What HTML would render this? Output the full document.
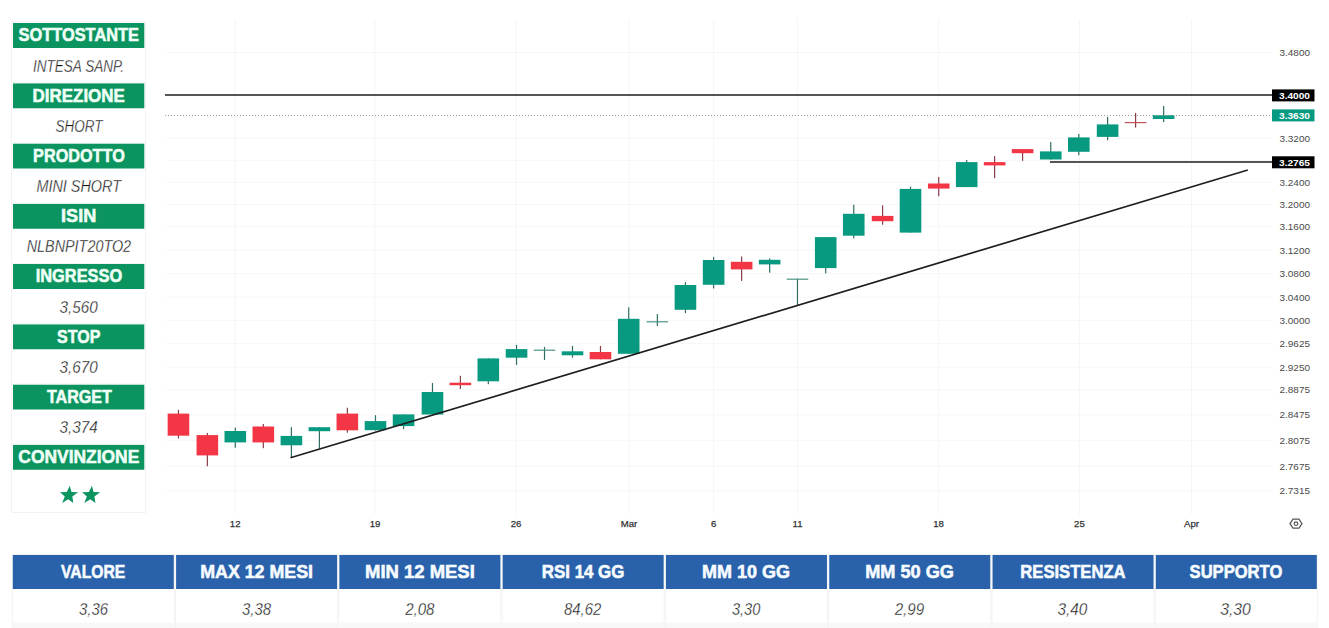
<!DOCTYPE html>
<html><head><meta charset="utf-8"><title>Chart</title>
<style>
html,body{margin:0;padding:0;background:#fff;width:1329px;height:628px;overflow:hidden}
svg{display:block;font-family:"Liberation Sans", sans-serif}
</style></head><body>
<svg width="1329" height="628" viewBox="0 0 1329 628">
<rect x="234.7" y="19" width="1" height="495" fill="#f6f6f9"/>
<rect x="374.5" y="19" width="1" height="495" fill="#f6f6f9"/>
<rect x="515.5" y="19" width="1" height="495" fill="#f6f6f9"/>
<rect x="628.5" y="19" width="1" height="495" fill="#f6f6f9"/>
<rect x="713.1" y="19" width="1" height="495" fill="#f6f6f9"/>
<rect x="797" y="19" width="1" height="495" fill="#f6f6f9"/>
<rect x="938.1" y="19" width="1" height="495" fill="#f6f6f9"/>
<rect x="1078.9" y="19" width="1" height="495" fill="#f6f6f9"/>
<rect x="1191" y="19" width="1" height="495" fill="#f6f6f9"/>
<rect x="166" y="52" width="1106" height="1" fill="#f7f7f9"/>
<rect x="166" y="138.1" width="1106" height="1" fill="#f7f7f9"/>
<rect x="166" y="181.9" width="1106" height="1" fill="#f7f7f9"/>
<rect x="166" y="204" width="1106" height="1" fill="#f7f7f9"/>
<rect x="166" y="226.2" width="1106" height="1" fill="#f7f7f9"/>
<rect x="166" y="250" width="1106" height="1" fill="#f7f7f9"/>
<rect x="166" y="272.9" width="1106" height="1" fill="#f7f7f9"/>
<rect x="166" y="296.7" width="1106" height="1" fill="#f7f7f9"/>
<rect x="166" y="320.1" width="1106" height="1" fill="#f7f7f9"/>
<rect x="166" y="343" width="1106" height="1" fill="#f7f7f9"/>
<rect x="166" y="366.7" width="1106" height="1" fill="#f7f7f9"/>
<rect x="166" y="388.9" width="1106" height="1" fill="#f7f7f9"/>
<rect x="166" y="414.4" width="1106" height="1" fill="#f7f7f9"/>
<rect x="166" y="440.2" width="1106" height="1" fill="#f7f7f9"/>
<rect x="166" y="466" width="1106" height="1" fill="#f7f7f9"/>
<rect x="166" y="490.4" width="1106" height="1" fill="#f7f7f9"/>
<rect x="166" y="159.8" width="1106" height="1" fill="#f7f7f9"/>
<rect x="177.85" y="409.8" width="1.2" height="28.7" fill="#8a3d47"/>
<rect x="167.65" y="413.6" width="21.6" height="22.1" fill="#f23645"/>
<rect x="206.75" y="432.9" width="1.2" height="33.4" fill="#8a3d47"/>
<rect x="196.55" y="435.1" width="21.6" height="20.3" fill="#f23645"/>
<rect x="234.7" y="427.6" width="1.2" height="20.1" fill="#2f6f63"/>
<rect x="224.5" y="431" width="21.6" height="11.4" fill="#089981"/>
<rect x="262.72" y="424" width="1.2" height="24.2" fill="#8a3d47"/>
<rect x="252.52" y="426.5" width="21.6" height="15.9" fill="#f23645"/>
<rect x="290.8" y="427.2" width="1.2" height="30.4" fill="#2f6f63"/>
<rect x="280.6" y="435.9" width="21.6" height="9.4" fill="#089981"/>
<rect x="318.8" y="427.2" width="1.2" height="21.5" fill="#2f6f63"/>
<rect x="308.6" y="427.2" width="21.6" height="4" fill="#089981"/>
<rect x="346.75" y="407.7" width="1.2" height="25" fill="#8a3d47"/>
<rect x="336.55" y="413.6" width="21.6" height="16.7" fill="#f23645"/>
<rect x="374.9" y="415.2" width="1.2" height="15.3" fill="#2f6f63"/>
<rect x="364.7" y="421.1" width="21.6" height="9.1" fill="#089981"/>
<rect x="402.97" y="414.4" width="1.2" height="14.7" fill="#2f6f63"/>
<rect x="392.77" y="414.4" width="21.6" height="11.7" fill="#089981"/>
<rect x="431.88" y="383" width="1.2" height="31.5" fill="#2f6f63"/>
<rect x="421.68" y="392" width="21.6" height="22.5" fill="#089981"/>
<rect x="459.75" y="375.8" width="1.2" height="13.2" fill="#8a3d47"/>
<rect x="449.55" y="382.7" width="21.6" height="2.5" fill="#f23645"/>
<rect x="487.72" y="358.4" width="1.2" height="25.8" fill="#2f6f63"/>
<rect x="477.52" y="358.4" width="21.6" height="22.9" fill="#089981"/>
<rect x="515.95" y="344.8" width="1.2" height="20.1" fill="#2f6f63"/>
<rect x="505.75" y="349.1" width="21.6" height="8.6" fill="#089981"/>
<rect x="543.92" y="346.9" width="1.2" height="13" fill="#2f6f63"/>
<rect x="533.73" y="349.6" width="21.6" height="1.2" fill="#4f9486"/>
<rect x="571.9" y="346" width="1.2" height="11.7" fill="#2f6f63"/>
<rect x="561.7" y="351.3" width="21.6" height="4" fill="#089981"/>
<rect x="599.88" y="346" width="1.2" height="13.3" fill="#8a3d47"/>
<rect x="589.68" y="352" width="21.6" height="7.3" fill="#f23645"/>
<rect x="628.1" y="307.3" width="1.2" height="46.5" fill="#2f6f63"/>
<rect x="617.9" y="318.8" width="21.6" height="35" fill="#089981"/>
<rect x="656.75" y="314" width="1.2" height="12" fill="#2f6f63"/>
<rect x="646.55" y="321.2" width="21.6" height="1.2" fill="#4f9486"/>
<rect x="684.85" y="282.1" width="1.2" height="31" fill="#2f6f63"/>
<rect x="674.65" y="285" width="21.6" height="24.8" fill="#089981"/>
<rect x="713.02" y="256.9" width="1.2" height="31.6" fill="#2f6f63"/>
<rect x="702.83" y="260" width="21.6" height="24.8" fill="#089981"/>
<rect x="741.05" y="256.5" width="1.2" height="24.4" fill="#8a3d47"/>
<rect x="730.85" y="261.8" width="21.6" height="7.6" fill="#f23645"/>
<rect x="769.05" y="258.4" width="1.2" height="14.3" fill="#2f6f63"/>
<rect x="758.85" y="259.8" width="21.6" height="4.6" fill="#089981"/>
<rect x="796.88" y="278.6" width="1.2" height="27.1" fill="#2f6f63"/>
<rect x="786.68" y="278.6" width="21.6" height="1.2" fill="#4f9486"/>
<rect x="825.12" y="237.1" width="1.2" height="36.3" fill="#2f6f63"/>
<rect x="814.92" y="237.1" width="21.6" height="31" fill="#089981"/>
<rect x="853.15" y="204.7" width="1.2" height="33.6" fill="#2f6f63"/>
<rect x="842.95" y="213.8" width="21.6" height="21.9" fill="#089981"/>
<rect x="882" y="205.4" width="1.2" height="19.3" fill="#8a3d47"/>
<rect x="871.8" y="215.9" width="21.6" height="5.3" fill="#f23645"/>
<rect x="909.9" y="186.6" width="1.2" height="46" fill="#2f6f63"/>
<rect x="899.7" y="188.9" width="21.6" height="43.7" fill="#089981"/>
<rect x="938.12" y="176.9" width="1.2" height="19.3" fill="#8a3d47"/>
<rect x="927.93" y="183.5" width="21.6" height="5.1" fill="#f23645"/>
<rect x="966.1" y="160" width="1.2" height="27.1" fill="#2f6f63"/>
<rect x="955.9" y="162.1" width="21.6" height="25" fill="#089981"/>
<rect x="994.02" y="156.1" width="1.2" height="22.1" fill="#8a3d47"/>
<rect x="983.83" y="162.1" width="21.6" height="3.3" fill="#f23645"/>
<rect x="1022" y="149.1" width="1.2" height="11.7" fill="#8a3d47"/>
<rect x="1011.8" y="149.1" width="21.6" height="4.1" fill="#f23645"/>
<rect x="1050.15" y="142" width="1.2" height="17.5" fill="#2f6f63"/>
<rect x="1039.95" y="151.4" width="21.6" height="8.1" fill="#089981"/>
<rect x="1078.2" y="133.9" width="1.2" height="21.3" fill="#2f6f63"/>
<rect x="1068" y="137.4" width="21.6" height="14.4" fill="#089981"/>
<rect x="1107" y="117" width="1.2" height="23.3" fill="#2f6f63"/>
<rect x="1096.8" y="124.4" width="21.6" height="12.5" fill="#089981"/>
<rect x="1135" y="112.9" width="1.2" height="14.7" fill="#8a3d47"/>
<rect x="1124.8" y="122" width="21.6" height="1.2" fill="#c4505c"/>
<rect x="1163.03" y="105.9" width="1.2" height="16.2" fill="#2f6f63"/>
<rect x="1152.83" y="115.2" width="21.6" height="3.8" fill="#089981"/>
<line x1="165" y1="95" x2="1272" y2="95" stroke="#1c1c1c" stroke-width="1.7"/>
<line x1="1050" y1="162" x2="1272" y2="162" stroke="#1c1c1c" stroke-width="1.7"/>
<line x1="165" y1="115.5" x2="1272" y2="115.5" stroke="#9c9c9c" stroke-width="1.2" stroke-dasharray="1 2"/>
<line x1="290.5" y1="457.8" x2="1247.8" y2="170" stroke="#1e1e1e" stroke-width="1.7"/>
<text x="1310" y="56" text-anchor="end" font-size="9.8" fill="#4a4a4a" textLength="30.5" lengthAdjust="spacingAndGlyphs">3.4800</text>
<text x="1310" y="142.1" text-anchor="end" font-size="9.8" fill="#4a4a4a" textLength="30.5" lengthAdjust="spacingAndGlyphs">3.3200</text>
<text x="1310" y="185.9" text-anchor="end" font-size="9.8" fill="#4a4a4a" textLength="30.5" lengthAdjust="spacingAndGlyphs">3.2400</text>
<text x="1310" y="208" text-anchor="end" font-size="9.8" fill="#4a4a4a" textLength="30.5" lengthAdjust="spacingAndGlyphs">3.2000</text>
<text x="1310" y="230.2" text-anchor="end" font-size="9.8" fill="#4a4a4a" textLength="30.5" lengthAdjust="spacingAndGlyphs">3.1600</text>
<text x="1310" y="254" text-anchor="end" font-size="9.8" fill="#4a4a4a" textLength="30.5" lengthAdjust="spacingAndGlyphs">3.1200</text>
<text x="1310" y="276.9" text-anchor="end" font-size="9.8" fill="#4a4a4a" textLength="30.5" lengthAdjust="spacingAndGlyphs">3.0800</text>
<text x="1310" y="300.7" text-anchor="end" font-size="9.8" fill="#4a4a4a" textLength="30.5" lengthAdjust="spacingAndGlyphs">3.0400</text>
<text x="1310" y="324.1" text-anchor="end" font-size="9.8" fill="#4a4a4a" textLength="30.5" lengthAdjust="spacingAndGlyphs">3.0000</text>
<text x="1310" y="347" text-anchor="end" font-size="9.8" fill="#4a4a4a" textLength="30.5" lengthAdjust="spacingAndGlyphs">2.9625</text>
<text x="1310" y="370.7" text-anchor="end" font-size="9.8" fill="#4a4a4a" textLength="30.5" lengthAdjust="spacingAndGlyphs">2.9250</text>
<text x="1310" y="392.9" text-anchor="end" font-size="9.8" fill="#4a4a4a" textLength="30.5" lengthAdjust="spacingAndGlyphs">2.8875</text>
<text x="1310" y="418.4" text-anchor="end" font-size="9.8" fill="#4a4a4a" textLength="30.5" lengthAdjust="spacingAndGlyphs">2.8475</text>
<text x="1310" y="444.2" text-anchor="end" font-size="9.8" fill="#4a4a4a" textLength="30.5" lengthAdjust="spacingAndGlyphs">2.8075</text>
<text x="1310" y="470" text-anchor="end" font-size="9.8" fill="#4a4a4a" textLength="30.5" lengthAdjust="spacingAndGlyphs">2.7675</text>
<text x="1310" y="494.4" text-anchor="end" font-size="9.8" fill="#4a4a4a" textLength="30.5" lengthAdjust="spacingAndGlyphs">2.7315</text>
<rect x="1272" y="89.4" width="42.5" height="12" fill="#000"/>
<text x="1310" y="98.8" text-anchor="end" font-size="9.6" font-weight="bold" fill="#fff" textLength="31" lengthAdjust="spacingAndGlyphs">3.4000</text>
<rect x="1272" y="109.4" width="42.5" height="12" fill="#089981"/>
<text x="1310" y="118.8" text-anchor="end" font-size="9.6" font-weight="bold" fill="#fff" textLength="31" lengthAdjust="spacingAndGlyphs">3.3630</text>
<rect x="1272" y="156.3" width="42.5" height="12" fill="#000"/>
<text x="1310" y="165.7" text-anchor="end" font-size="9.6" font-weight="bold" fill="#fff" textLength="31" lengthAdjust="spacingAndGlyphs">3.2765</text>
<text x="235.2" y="526.8" text-anchor="middle" font-size="9.6" fill="#333" stroke="#333" stroke-width="0.25">12</text>
<text x="375" y="526.8" text-anchor="middle" font-size="9.6" fill="#333" stroke="#333" stroke-width="0.25">19</text>
<text x="516" y="526.8" text-anchor="middle" font-size="9.6" fill="#333" stroke="#333" stroke-width="0.25">26</text>
<text x="629" y="526.8" text-anchor="middle" font-size="9.6" fill="#333" stroke="#333" stroke-width="0.25">Mar</text>
<text x="713.6" y="526.8" text-anchor="middle" font-size="9.6" fill="#333" stroke="#333" stroke-width="0.25">6</text>
<text x="797.5" y="526.8" text-anchor="middle" font-size="9.6" fill="#333" stroke="#333" stroke-width="0.25">11</text>
<text x="938.6" y="526.8" text-anchor="middle" font-size="9.6" fill="#333" stroke="#333" stroke-width="0.25">18</text>
<text x="1079.4" y="526.8" text-anchor="middle" font-size="9.6" fill="#333" stroke="#333" stroke-width="0.25">25</text>
<text x="1191.5" y="526.8" text-anchor="middle" font-size="9.6" fill="#333" stroke="#333" stroke-width="0.25">Apr</text>
<g transform="translate(1296,523.7)" fill="none" stroke="#555" stroke-width="1.2"><path d="M-6,0 L-3,-4.5 L3,-4.5 L6,0 L3,4.5 L-3,4.5 Z"/><circle cx="0" cy="0" r="1.8"/></g>
<rect x="11.5" y="21.5" width="134" height="491" fill="#fff" stroke="#f3f3f3" stroke-width="1"/>
<rect x="13" y="23" width="131.3" height="25" fill="#0b945f"/>
<text x="18.5" y="41.4" font-size="18.3" font-weight="bold" fill="#effff7" stroke="#effff7" stroke-width="0.55" textLength="120.5" lengthAdjust="spacingAndGlyphs">SOTTOSTANTE</text>
<text x="33" y="71.7" font-size="15.6" font-style="italic" fill="#151515" stroke="#fff" stroke-width="0.3" textLength="91" lengthAdjust="spacingAndGlyphs">INTESA SANP.</text>
<rect x="13" y="83.25" width="131.3" height="25" fill="#0b945f"/>
<rect x="12" y="82.25" width="133.3" height="1" fill="#eef7f2"/>
<text x="32.6" y="101.65" font-size="18.3" font-weight="bold" fill="#effff7" stroke="#effff7" stroke-width="0.55" textLength="92.2" lengthAdjust="spacingAndGlyphs">DIREZIONE</text>
<text x="55.5" y="131.95" font-size="15.6" font-style="italic" fill="#151515" stroke="#fff" stroke-width="0.3" textLength="46.9" lengthAdjust="spacingAndGlyphs">SHORT</text>
<rect x="13" y="143.5" width="131.3" height="25" fill="#0b945f"/>
<rect x="12" y="142.5" width="133.3" height="1" fill="#eef7f2"/>
<text x="33.1" y="161.9" font-size="18.3" font-weight="bold" fill="#effff7" stroke="#effff7" stroke-width="0.55" textLength="91.7" lengthAdjust="spacingAndGlyphs">PRODOTTO</text>
<text x="36.4" y="192.2" font-size="15.6" font-style="italic" fill="#151515" stroke="#fff" stroke-width="0.3" textLength="84.6" lengthAdjust="spacingAndGlyphs">MINI SHORT</text>
<rect x="13" y="203.75" width="131.3" height="25" fill="#0b945f"/>
<rect x="12" y="202.75" width="133.3" height="1" fill="#eef7f2"/>
<text x="61.1" y="222.15" font-size="18.3" font-weight="bold" fill="#effff7" stroke="#effff7" stroke-width="0.55" textLength="35.2" lengthAdjust="spacingAndGlyphs">ISIN</text>
<text x="26.7" y="252.45" font-size="15.6" font-style="italic" fill="#151515" stroke="#fff" stroke-width="0.3" textLength="104.4" lengthAdjust="spacingAndGlyphs">NLBNPIT20TO2</text>
<rect x="13" y="264" width="131.3" height="25" fill="#0b945f"/>
<rect x="12" y="263" width="133.3" height="1" fill="#eef7f2"/>
<text x="35.7" y="282.4" font-size="18.3" font-weight="bold" fill="#effff7" stroke="#effff7" stroke-width="0.55" textLength="86.5" lengthAdjust="spacingAndGlyphs">INGRESSO</text>
<text x="59.6" y="312.7" font-size="15.6" font-style="italic" fill="#151515" stroke="#fff" stroke-width="0.3" textLength="38.2" lengthAdjust="spacingAndGlyphs">3,560</text>
<rect x="13" y="324.25" width="131.3" height="25" fill="#0b945f"/>
<rect x="12" y="323.25" width="133.3" height="1" fill="#eef7f2"/>
<text x="57.1" y="342.65" font-size="18.3" font-weight="bold" fill="#effff7" stroke="#effff7" stroke-width="0.55" textLength="43.3" lengthAdjust="spacingAndGlyphs">STOP</text>
<text x="59.6" y="372.95" font-size="15.6" font-style="italic" fill="#151515" stroke="#fff" stroke-width="0.3" textLength="38.2" lengthAdjust="spacingAndGlyphs">3,670</text>
<rect x="13" y="384.5" width="131.3" height="25" fill="#0b945f"/>
<rect x="12" y="383.5" width="133.3" height="1" fill="#eef7f2"/>
<text x="46.9" y="402.9" font-size="18.3" font-weight="bold" fill="#effff7" stroke="#effff7" stroke-width="0.55" textLength="64.9" lengthAdjust="spacingAndGlyphs">TARGET</text>
<text x="59.6" y="433.2" font-size="15.6" font-style="italic" fill="#151515" stroke="#fff" stroke-width="0.3" textLength="38.2" lengthAdjust="spacingAndGlyphs">3,374</text>
<rect x="13" y="444.75" width="131.3" height="25" fill="#0b945f"/>
<rect x="12" y="443.75" width="133.3" height="1" fill="#eef7f2"/>
<text x="18.3" y="463.15" font-size="18.3" font-weight="bold" fill="#effff7" stroke="#effff7" stroke-width="0.55" textLength="121" lengthAdjust="spacingAndGlyphs">CONVINZIONE</text>
<polygon transform="translate(68.7,495.2) skewX(-7)" points="0.00,-9.50 2.35,-3.23 9.04,-2.94 3.79,1.23 5.58,7.69 0.00,3.99 -5.58,7.69 -3.79,1.23 -9.04,-2.94 -2.35,-3.23" fill="#0b945f"/>
<polygon transform="translate(90.8,495.2) skewX(-7)" points="0.00,-9.50 2.35,-3.23 9.04,-2.94 3.79,1.23 5.58,7.69 0.00,3.99 -5.58,7.69 -3.79,1.23 -9.04,-2.94 -2.35,-3.23" fill="#0b945f"/>
<rect x="12.3" y="554.5" width="162" height="80" fill="#fff" stroke="#f3f3f3" stroke-width="1"/>
<rect x="12.8" y="622.5" width="161" height="6" fill="#f8f8f8"/>
<rect x="12.8" y="555" width="161" height="34" fill="#2962aa"/>
<text x="61" y="577.9" font-size="19.2" font-weight="bold" fill="#f6fbff" stroke="#f6fbff" stroke-width="0.6" textLength="64.3" lengthAdjust="spacingAndGlyphs">VALORE</text>
<text x="79" y="614.6" font-size="15.6" font-style="italic" fill="#151515" stroke="#fff" stroke-width="0.3" textLength="29" lengthAdjust="spacingAndGlyphs">3,36</text>
<rect x="175.59" y="554.5" width="162" height="80" fill="#fff" stroke="#f3f3f3" stroke-width="1"/>
<rect x="176.09" y="622.5" width="161" height="6" fill="#f8f8f8"/>
<rect x="176.09" y="555" width="161" height="34" fill="#2962aa"/>
<text x="200.2" y="577.9" font-size="19.2" font-weight="bold" fill="#f6fbff" stroke="#f6fbff" stroke-width="0.6" textLength="112.8" lengthAdjust="spacingAndGlyphs">MAX 12 MESI</text>
<text x="242" y="614.6" font-size="15.6" font-style="italic" fill="#151515" stroke="#fff" stroke-width="0.3" textLength="29" lengthAdjust="spacingAndGlyphs">3,38</text>
<rect x="338.88" y="554.5" width="162" height="80" fill="#fff" stroke="#f3f3f3" stroke-width="1"/>
<rect x="339.38" y="622.5" width="161" height="6" fill="#f8f8f8"/>
<rect x="339.38" y="555" width="161" height="34" fill="#2962aa"/>
<text x="365" y="577.9" font-size="19.2" font-weight="bold" fill="#f6fbff" stroke="#f6fbff" stroke-width="0.6" textLength="109.8" lengthAdjust="spacingAndGlyphs">MIN 12 MESI</text>
<text x="405.2" y="614.6" font-size="15.6" font-style="italic" fill="#151515" stroke="#fff" stroke-width="0.3" textLength="29.3" lengthAdjust="spacingAndGlyphs">2,08</text>
<rect x="502.17" y="554.5" width="162" height="80" fill="#fff" stroke="#f3f3f3" stroke-width="1"/>
<rect x="502.67" y="622.5" width="161" height="6" fill="#f8f8f8"/>
<rect x="502.67" y="555" width="161" height="34" fill="#2962aa"/>
<text x="541.8" y="577.9" font-size="19.2" font-weight="bold" fill="#f6fbff" stroke="#f6fbff" stroke-width="0.6" textLength="82.6" lengthAdjust="spacingAndGlyphs">RSI 14 GG</text>
<text x="564" y="614.6" font-size="15.6" font-style="italic" fill="#151515" stroke="#fff" stroke-width="0.3" textLength="37.3" lengthAdjust="spacingAndGlyphs">84,62</text>
<rect x="665.46" y="554.5" width="162" height="80" fill="#fff" stroke="#f3f3f3" stroke-width="1"/>
<rect x="665.96" y="622.5" width="161" height="6" fill="#f8f8f8"/>
<rect x="665.96" y="555" width="161" height="34" fill="#2962aa"/>
<text x="702.1" y="577.9" font-size="19.2" font-weight="bold" fill="#f6fbff" stroke="#f6fbff" stroke-width="0.6" textLength="88" lengthAdjust="spacingAndGlyphs">MM 10 GG</text>
<text x="731.9" y="614.6" font-size="15.6" font-style="italic" fill="#151515" stroke="#fff" stroke-width="0.3" textLength="28.4" lengthAdjust="spacingAndGlyphs">3,30</text>
<rect x="828.75" y="554.5" width="162" height="80" fill="#fff" stroke="#f3f3f3" stroke-width="1"/>
<rect x="829.25" y="622.5" width="161" height="6" fill="#f8f8f8"/>
<rect x="829.25" y="555" width="161" height="34" fill="#2962aa"/>
<text x="865.2" y="577.9" font-size="19.2" font-weight="bold" fill="#f6fbff" stroke="#f6fbff" stroke-width="0.6" textLength="88.8" lengthAdjust="spacingAndGlyphs">MM 50 GG</text>
<text x="894.7" y="614.6" font-size="15.6" font-style="italic" fill="#151515" stroke="#fff" stroke-width="0.3" textLength="29.5" lengthAdjust="spacingAndGlyphs">2,99</text>
<rect x="992.04" y="554.5" width="162" height="80" fill="#fff" stroke="#f3f3f3" stroke-width="1"/>
<rect x="992.54" y="622.5" width="161" height="6" fill="#f8f8f8"/>
<rect x="992.54" y="555" width="161" height="34" fill="#2962aa"/>
<text x="1020.3" y="577.9" font-size="19.2" font-weight="bold" fill="#f6fbff" stroke="#f6fbff" stroke-width="0.6" textLength="105.3" lengthAdjust="spacingAndGlyphs">RESISTENZA</text>
<text x="1057.5" y="614.6" font-size="15.6" font-style="italic" fill="#151515" stroke="#fff" stroke-width="0.3" textLength="29.8" lengthAdjust="spacingAndGlyphs">3,40</text>
<rect x="1155.33" y="554.5" width="162" height="80" fill="#fff" stroke="#f3f3f3" stroke-width="1"/>
<rect x="1155.83" y="622.5" width="161" height="6" fill="#f8f8f8"/>
<rect x="1155.83" y="555" width="161" height="34" fill="#2962aa"/>
<text x="1189.6" y="577.9" font-size="19.2" font-weight="bold" fill="#f6fbff" stroke="#f6fbff" stroke-width="0.6" textLength="92.7" lengthAdjust="spacingAndGlyphs">SUPPORTO</text>
<text x="1220.2" y="614.6" font-size="15.6" font-style="italic" fill="#151515" stroke="#fff" stroke-width="0.3" textLength="30.7" lengthAdjust="spacingAndGlyphs">3,30</text>
</svg>
</body></html>
